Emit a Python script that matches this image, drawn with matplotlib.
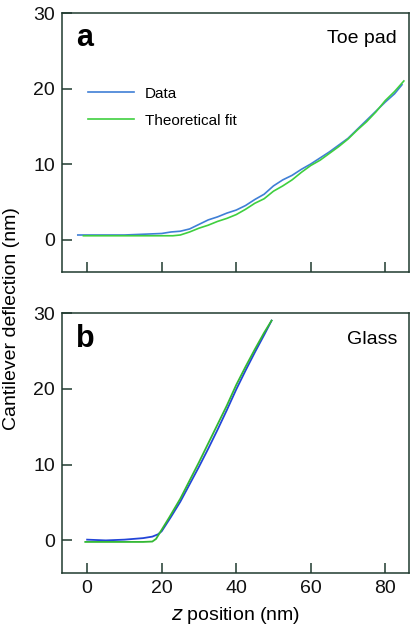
import matplotlib
matplotlib.use("Agg")
import matplotlib.pyplot as plt

plt.rcParams['font.family'] = ['Liberation Sans', 'DejaVu Sans']

# panel a: toe pad
toe_z_data = [-2.5, 0, 5, 10, 15, 20, 22.5, 25, 27.5, 30, 32.5, 35, 37.5, 40, 42.5, 45,
              47.5, 50, 52.5, 55, 57.5, 60, 62.5, 65, 67.5, 70, 72.5, 75, 77.5, 80, 82.5, 84.5]
toe_defl_data = [0.6, 0.6, 0.6, 0.6, 0.7, 0.8, 1.0, 1.1, 1.4, 2.0, 2.6, 3.0, 3.5, 3.9, 4.5, 5.3,
                 6.0, 7.1, 7.9, 8.5, 9.3, 10.0, 10.8, 11.6, 12.5, 13.4, 14.6, 15.8, 17.0, 18.2, 19.3, 20.5]
toe_z_fit = [-1, 5, 10, 15, 20, 23, 25, 27.5, 30, 32.5, 35, 37.5, 40, 42.5, 45, 47.5, 50,
             52.5, 55, 57.5, 60, 62.5, 65, 67.5, 70, 72.5, 75, 77.5, 80, 82.5, 85]
toe_defl_fit = [0.5, 0.5, 0.5, 0.5, 0.5, 0.5, 0.6, 1.0, 1.5, 1.9, 2.4, 2.8, 3.3, 4.0, 4.8, 5.4, 6.4,
                7.1, 7.9, 8.9, 9.8, 10.5, 11.4, 12.3, 13.3, 14.5, 15.6, 16.9, 18.4, 19.6, 21.0]

# panel b: glass
glass_z_data = [0, 5, 10, 15, 17.5, 19, 20, 22.5, 25, 27.5, 30, 32.5, 35, 37.5, 40, 42.5, 45, 47.5, 49.5]
glass_defl_data = [0.1, 0.0, 0.1, 0.3, 0.5, 0.8, 1.2, 3.1, 5.1, 7.4, 9.7, 12.1, 14.6, 17.2, 19.9,
                   22.4, 24.8, 27.1, 29.0]
glass_z_fit = [-0.5, 5, 10, 15, 17.5, 18.5, 19.5, 22, 25, 27.5, 30, 32.5, 35, 37.5, 40, 42.5, 45, 47.5, 49.5]
glass_defl_fit = [-0.2, -0.2, -0.2, -0.2, -0.15, 0.2, 1.0, 3.0, 5.5, 7.9, 10.3, 12.8, 15.3, 17.8,
                  20.5, 22.9, 25.2, 27.4, 29.0]

x_ticks = [0, 20, 40, 60, 80]
y_ticks = [0, 10, 20, 30]

spine_col = '#1f3a2f'

fig = plt.figure(figsize=(4.2, 6.25), dpi=100)
ax_a = fig.add_axes([0.148, 0.5648, 0.826, 0.4144])
ax_b = fig.add_axes([0.148, 0.0832, 0.826, 0.416])

def estilo(ax, etiquetas_x):
    ax.set_xlim(-6.7, 86.4)
    ax.set_ylim(-4.3, 30)
    ax.set_xticks(x_ticks)
    ax.set_yticks(y_ticks)
    if not etiquetas_x:
        ax.set_xticklabels([])
    ax.tick_params(direction='in', length=7, width=1.1, color=spine_col,
                   labelsize=14, pad=5, labelcolor='#111111')
    for s in ax.spines.values():
        s.set_color(spine_col)
        s.set_linewidth(1.1)

ax_a.plot(toe_z_data, toe_defl_data, color='#3f7fd6', lw=1.2, label='Data')
ax_a.plot(toe_z_fit, toe_defl_fit, color='#3fcf3f', lw=1.2, label='Theoretical fit')
estilo(ax_a, False)
ax_a.text(0.04, 0.905, 'a', transform=ax_a.transAxes, fontsize=22, fontweight='bold', va='center')
ax_a.text(0.965, 0.9, 'Toe pad', transform=ax_a.transAxes, fontsize=14, ha='right', va='center')
ax_a.legend(loc='upper left', bbox_to_anchor=(0.075, 0.715), frameon=False, fontsize=11,
            handlelength=3.0, handletextpad=0.7, labelspacing=0.85, borderaxespad=0, borderpad=0)

ax_b.plot(glass_z_data, glass_defl_data, color='#2345d8', lw=1.3)
ax_b.plot(glass_z_fit, glass_defl_fit, color='#33b833', lw=1.3)
estilo(ax_b, True)
ax_b.text(0.04, 0.9, 'b', transform=ax_b.transAxes, fontsize=22, fontweight='bold', va='center')
ax_b.text(0.965, 0.9, 'Glass', transform=ax_b.transAxes, fontsize=14, ha='right', va='center')
ax_b.set_xlabel('$\\it{z}$ position (nm)', fontsize=14, labelpad=6)

fig.text(0.028, 0.49, 'Cantilever deflection (nm)', rotation=90, fontsize=14,
         ha='center', va='center')

fig.savefig('out.png', dpi=100)
plt.close(fig)
